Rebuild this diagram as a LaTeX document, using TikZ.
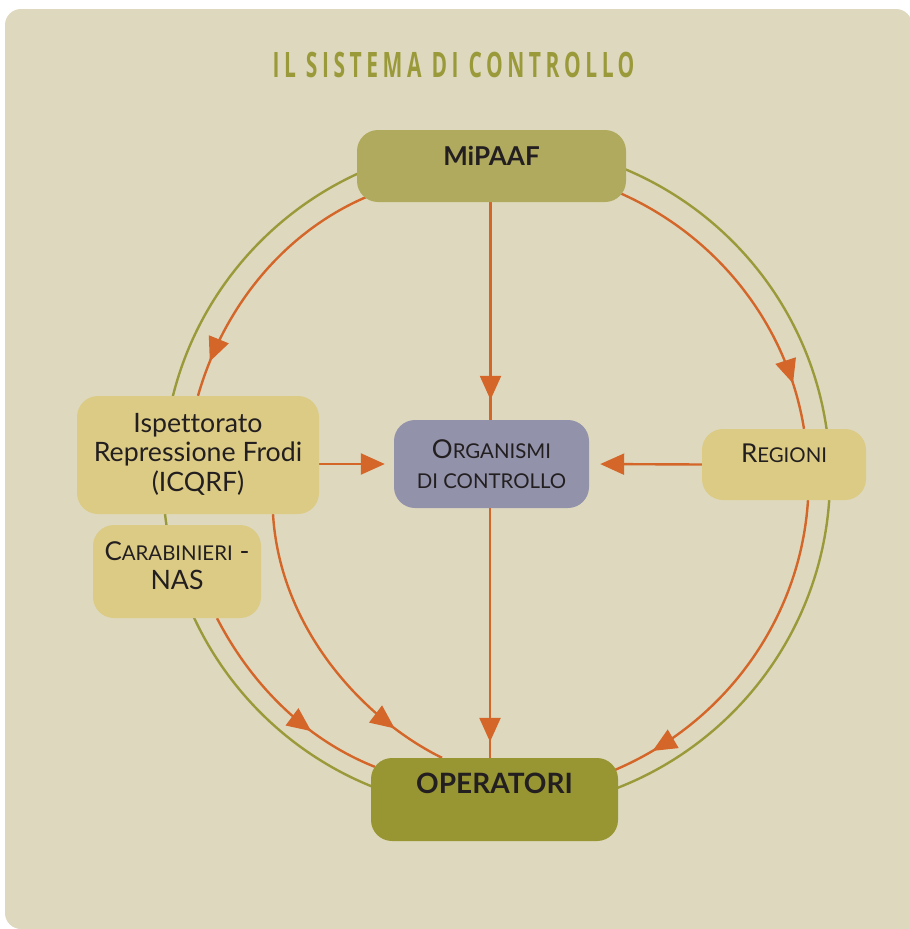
\documentclass[tikz,border=0pt]{standalone}
\usepackage{fontspec}
\setmainfont{Lato}[Ligatures=NoCommon]
\newfontfamily\titlefont[FakeStretch=0.6,LetterSpace=13]{Open Sans Bold}
\usetikzlibrary{arrows.meta,decorations.markings}
\definecolor{panel}{HTML}{DED9BE}
\definecolor{ringc}{HTML}{9A9A3A}
\definecolor{orangec}{HTML}{D4662A}
\definecolor{inkc}{HTML}{231F20}
\definecolor{mipc}{HTML}{B0AA5E}
\definecolor{operc}{HTML}{989632}
\definecolor{sandc}{HTML}{DCCB84}
\definecolor{orgc}{HTML}{9292AB}
\newcommand\bigtxt[1]{{\fontsize{26}{29}\selectfont #1}}
\newcommand\smalltxt[1]{{\fontsize{20.4}{29}\selectfont #1}}
\pgfdeclarelayer{backl}
\pgfdeclarelayer{connl}
\pgfsetlayers{backl,connl,main}
\tikzset{
  boxn/.style={rounded corners=21pt,inner sep=0pt,text=inkc,align=center,font=\fontsize{26.7}{29.5}\selectfont},
  conn/.style={draw=orangec,line width=2.4pt},
  headat/.style={postaction={decorate},decoration={markings,mark=at position #1 with {\arrow{Triangle[length=24pt,width=21pt]}}}},
  tip/.style={-{Triangle[length=24pt,width=21pt]}},
}
\begin{document}
\begin{tikzpicture}[x=1pt,y=-1pt]
\useasboundingbox (0,0) rectangle (910,929);
\begin{pgfonlayer}{backl}
\fill[panel] (912,929) [rounded corners=16pt] -- (5,929) -- (5,9) -- (912,9) -- (912,60) [sharp corners] -- cycle;
\end{pgfonlayer}
\node[font=\fontsize{35}{35}\selectfont\titlefont,text=ringc,inner sep=0pt] (title) at (453.5,65) {IL SISTEMA DI CONTROLLO};
\begin{pgfonlayer}{backl}
\node[circle,draw=ringc,line width=2.4pt,minimum size=667pt,inner sep=0pt] (ring) at (496.5,477) {};
\end{pgfonlayer}
\node[boxn,fill=mipc,minimum width=269pt,text height=35pt,text depth=37pt,font=\fontsize{26}{29}\selectfont\bfseries] (mip) at (491.5,166) {MiPAAF};
\node[boxn,fill=operc,minimum width=247pt,text height=35pt,text depth=48pt,font=\fontsize{28}{29}\selectfont\bfseries] (oper) at (494.5,799.5) {OPERATORI};
\node[boxn,fill=sandc,minimum width=242pt,minimum height=118pt] (isp) at (198,455) {Ispettorato\\Repressione Frodi\\(ICQRF)\\[-23.5pt]};
\node[boxn,fill=sandc,minimum width=168pt,minimum height=93pt] (car) at (177,571.5) {\bigtxt{C}\smalltxt{ARABINIERI} -\\NAS\\[-17.5pt]};
\node[boxn,fill=sandc,minimum width=164pt,text height=33pt,text depth=38pt] (reg) at (784,464.5) {\bigtxt{R}\smalltxt{EGIONI}};
\node[boxn,fill=orgc,minimum width=195pt,minimum height=88pt] (org) at (491.5,464) {\bigtxt{O}\smalltxt{RGANISMI}\\\smalltxt{DI CONTROLLO}};
\begin{pgfonlayer}{connl}
\draw[conn,headat=0.865] ([shift={(9,-5)}]mip.south west) .. controls (283,233) and (223,308) .. (isp.north);
\draw[conn,headat=0.85] ([shift={(-6,-9)}]mip.south east) .. controls (717,236) and (787,324) .. ([shift={(20,0)}]reg.north);
\draw[conn,headat=0.88] ([shift={(24,0)}]reg.south) .. controls (800.5,619) and (725,723) .. ([shift={(-3,12)}]oper.north east);
\draw[conn,headat=0.67] ([shift={(40,0)}]car.south) .. controls (251,684) and (305,739) .. ([shift={(4,9)}]oper.north west);
\draw[conn,headat=0.82] ([shift={(75,0)}]isp.south) .. controls (280,630) and (365,720) .. ([shift={(-52.5,0)}]oper.north);
\draw[conn,headat=0.908] ([xshift=-1pt]mip.south) -- ([xshift=-1pt]org.north);
\draw[conn,headat=0.936] ([xshift=-1.5pt]org.south) -- ([xshift=-1.5pt]org.south |- oper.north);
\draw[conn,tip,shorten >=9pt] (isp.east |- org.west) -- (org.west);
\draw[conn,tip,shorten >=11pt] (reg.west) -- (org.east);
\end{pgfonlayer}
\end{tikzpicture}
\end{document}
